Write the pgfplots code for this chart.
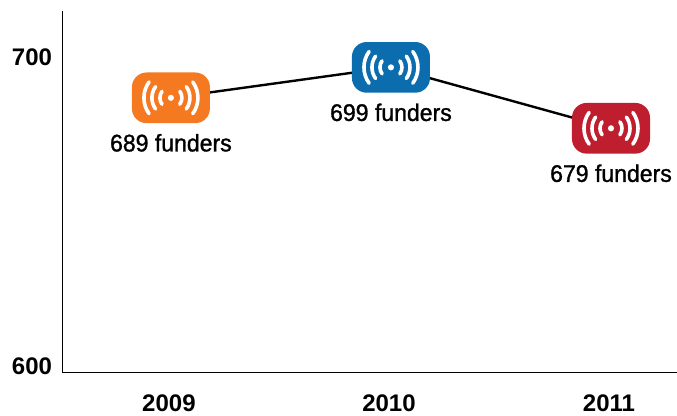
\documentclass[border=0pt]{standalone}
\usepackage{fontspec}
\setmainfont{Liberation Sans}
\newfontfamily\medfont[FakeBold=1.2,FakeStretch=0.96]{Liberation Sans}
\usepackage{pgfplots}
\pgfplotsset{compat=1.18}

\definecolor{iconorange}{HTML}{F47920}
\definecolor{iconblue}{HTML}{0B6CAE}
\definecolor{iconred}{HTML}{BE1E2D}

% one pair of arcs
\newcommand{\sigarc}[1]{%
  \pgfpathmoveto{\pgfpointpolar{36}{#1}}\pgfpatharc{36}{-36}{#1}%
  \pgfpathmoveto{\pgfpointpolar{144}{#1}}\pgfpatharc{144}{216}{#1}%
}
% signal icon: rounded box, dot and three arcs each side
\pgfdeclareplotmark{signal}{%
  \pgfpathmoveto{\pgfpoint{-18.25pt}{-19pt}}
  \pgfpathlineto{\pgfpoint{18.25pt}{-19pt}}
  \pgfpatharc{-90}{0}{11pt}
  \pgfpathlineto{\pgfpoint{29.25pt}{8pt}}
  \pgfpatharc{0}{90}{11pt}
  \pgfpathlineto{\pgfpoint{-18.25pt}{19pt}}
  \pgfpatharc{90}{180}{11pt}
  \pgfpathlineto{\pgfpoint{-29.25pt}{-8pt}}
  \pgfpatharc{180}{270}{11pt}
  \pgfpathclose
  \pgfusepathqfill
  \pgfsetfillcolor{white}
  \pgfsetstrokecolor{white}
  \pgfpathcircle{\pgfpointorigin}{2.3pt}
  \pgfusepathqfill
  \pgfsetlinewidth{2.7pt}
  \pgfsetroundcap
  \sigarc{8.25pt}\sigarc{14.25pt}\sigarc{20.25pt}
  \pgfusepathqstroke
}

\pgfplotsset{
  funders/.style={
    only marks, mark=signal,
    nodes near coords={\pgfmathprintnumber[assume math mode=true]{\pgfplotspointmeta} funders},
    point meta=y,
    every node near coord/.style={font=\fontsize{18pt}{20pt}\medfont,text=black,anchor=center,yshift=-33.75pt},
  },
}

\begin{document}
\begin{tikzpicture}
\begin{axis}[
    name=a,
    scale only axis,
    width=461.25pt, height=270.75pt,
    xmin=-0.495, xmax=2.30,
    ymin=599, ymax=717.5,
    axis x line*=bottom, axis y line*=left,
    axis line style={black,line width=0.7pt,-},
    xtick={0,1,2},
    xticklabels={2009,2010,2011},
    ytick={601,702.4},
    yticklabels={600,700},
    tick style={draw=none},
    tick label style={font=\fontsize{18pt}{20pt}\selectfont\bfseries},
    x tick label style={yshift=-13.5pt,xshift=-1.5pt},
    y tick label style={xshift=-4pt},
    clip=false,
]
\addplot[black,line width=1.8pt] coordinates {(0,689) (1,699) (2,679)};
\addplot[funders,mark options={fill=iconorange}] coordinates {(0,689)};
\addplot[funders,mark options={fill=iconblue}] coordinates {(1,699)};
\addplot[funders,mark options={fill=iconred}] coordinates {(2,679)};
\end{axis}
\pgfresetboundingbox
\path[use as bounding box] ([shift={(-46.5pt,-32.25pt)}]a.south west) rectangle ([shift={(0pt,8.25pt)}]a.north east);
\end{tikzpicture}
\end{document}
